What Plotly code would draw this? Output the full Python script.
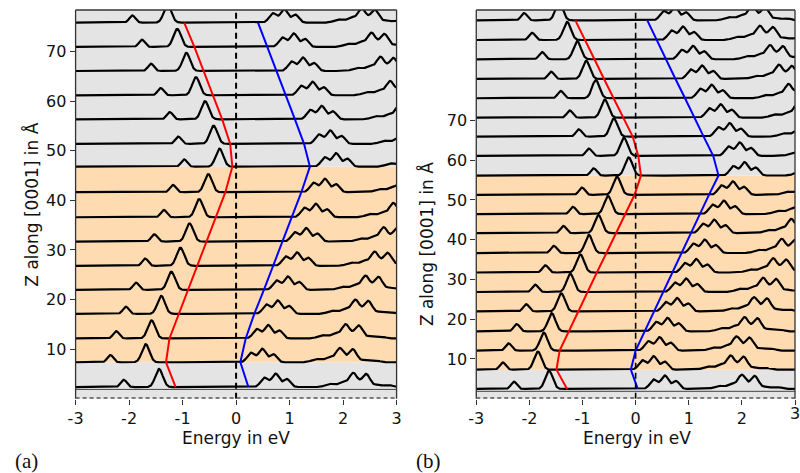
import numpy as np
import plotly.graph_objects as go

# ---------------- data ----------------
# layer baselines (Z along [0001], Angstrom)
z_a = [2.35, 7.35, 12.15, 17.1, 21.95, 26.8, 31.7, 36.6, 41.65, 46.8, 51.4, 56.35, 61.2, 66.1, 70.95, 75.85]
z_b = [2.45, 7.3, 12.1, 16.95, 21.95, 26.85, 31.75, 36.65, 41.65, 46.45, 51.3, 56.15, 61.1, 65.95,
       70.7, 75.6, 80.45, 85.4, 90.25, 95.2]

# main valence peak energy of each layer (eV)
peak_a = [-1.44, -1.69, -1.58, -1.40, -1.21, -1.04, -0.87, -0.69, -0.52, -0.31, -0.42, -0.58, -0.75, -0.93, -1.10, -1.28]
peak_b = [-1.63, -1.84, -1.73, -1.58, -1.40, -1.23, -1.04, -0.88, -0.70, -0.52, -0.35, -0.13, -0.22, -0.41,
          -0.58, -0.75, -0.93, -1.10, -1.29, -1.44]

# band edges (red = valence, blue = conduction) at each baseline (eV)
vbm_a = [-1.13, -1.31, -1.245, -1.07, -0.89, -0.72, -0.55, -0.38, -0.20, -0.07, -0.11, -0.26, -0.43, -0.60, -0.78, -0.97]
cbm_a = [0.23, 0.08, 0.18, 0.34, 0.52, 0.69, 0.87, 1.04, 1.22, 1.38, 1.27, 1.10, 0.93, 0.75, 0.58, 0.41]
vbm_b = [-1.29, -1.49, -1.43, -1.26, -1.08, -0.90, -0.73, -0.55, -0.37, -0.20, -0.02, 0.10, 0.05, -0.055,
         -0.235, -0.415, -0.595, -0.775, -0.955, -1.135]
cbm_b = [0.04, -0.09, 0.0, 0.17, 0.34, 0.52, 0.69, 0.86, 1.04, 1.21, 1.38, 1.56, 1.46, 1.28, 1.10, 0.93,
         0.75, 0.57, 0.40, 0.22]

# peak list of the layer DOS, relative to the main valence peak
dos_pos = [0.0, -0.66, 1.97, 2.18, 2.39, 3.20, 3.43, 3.63, 3.87, 4.10, 4.30]
dos_amp = [1.0, 0.40, 0.52, 0.74, 0.44, 0.18, 0.28, 0.78, 0.72, 0.12, 0.10]
dos_sig = [0.07, 0.055, 0.07, 0.068, 0.064, 0.09, 0.07, 0.075, 0.075, 0.07, 0.07]

# shaded regions: index range of the orange (middle) block
orange_a = (1, 9)
orange_b = (1, 11)

x_ticks = [-3, -2, -1, 0, 1, 2, 3]
x_ticktext = ["-3", "-2", "-1", "0", "1", "2", "3"]
y_ticks = [10, 20, 30, 40, 50, 60, 70]

# ---------------- figure ----------------
E = np.linspace(-3, 3, 1201)


def dos(shift):
    out = np.zeros_like(E)
    for p, a, s in zip(dos_pos, dos_amp, dos_sig):
        out += a * np.exp(-0.5 * ((E - shift - p) / s) ** 2)
    return out


GREY = "#e4e4e4"
ORANGE = "#ffdbb1"

fig = go.Figure()
shapes = []


def panel(xr, yr, zs, peaks, vbm, cbm, orange, height, ytop, lw_dash):
    lo, hi = orange
    for y0, y1, col in [(0, zs[lo], GREY), (zs[lo], zs[hi], ORANGE), (zs[hi], ytop, GREY)]:
        shapes.append(dict(type="rect", xref=xr, yref=yr, x0=-3, x1=3, y0=y0, y1=y1,
                           fillcolor=col, line=dict(width=0), layer="below"))
    fig.add_trace(go.Scatter(x=[-3, 3], y=[zs[0] - 0.45 * height / 3.45] * 2, mode="lines",
                             line=dict(color="#444444", width=1), xaxis=xr, yaxis=yr,
                             showlegend=False, hoverinfo="skip"))
    for z, p in zip(zs, peaks):
        fig.add_trace(go.Scatter(x=E, y=z + height * dos(p), mode="lines",
                                 line=dict(color="black", width=2.2), xaxis=xr, yaxis=yr,
                                 showlegend=False, hoverinfo="skip"))
    fig.add_trace(go.Scatter(x=vbm, y=zs, mode="lines", line=dict(color="red", width=2),
                             xaxis=xr, yaxis=yr, showlegend=False))
    fig.add_trace(go.Scatter(x=cbm, y=zs, mode="lines", line=dict(color="blue", width=2),
                             xaxis=xr, yaxis=yr, showlegend=False))
    fig.add_trace(go.Scatter(x=[0, 0], y=[0, ytop], mode="lines",
                             line=dict(color="black", width=lw_dash, dash="6px,4px"),
                             xaxis=xr, yaxis=yr, showlegend=False))
    dom_x = xr + " domain"
    dom_y = yr + " domain"
    for x0, y0, x1, y1 in [(0, 0, 0, 1), (0, 1, 1, 1), (1, 0, 1, 1)]:
        shapes.append(dict(type="line", xref=dom_x, yref=dom_y, x0=x0, y0=y0, x1=x1, y1=y1,
                           line=dict(color="#333333", width=1.3)))
    shapes.append(dict(type="line", xref=dom_x, yref=dom_y, x0=0, y0=0.002, x1=1, y1=0.002,
                       line=dict(color="#555555", width=1.5, dash="4px,3px")))


panel("x", "y", z_a, peak_a, vbm_a, cbm_a, orange_a, 3.65, 78.4, 2)
panel("x2", "y2", z_b, peak_b, vbm_b, cbm_b, orange_b, 4.55, 97.8, 1.6)

tickfont = dict(family="DejaVu Sans", size=16, color="#111111")
axis_common = dict(showgrid=False, zeroline=False, showline=False, ticks="outside",
                   ticklen=5, tickwidth=1.2, tickcolor="#333333", tickfont=tickfont)

H = 473.0
ydom = [(H - 398.7) / H, (H - 10) / H]
fig.update_layout(
    width=800, height=473, margin=dict(l=0, r=0, t=0, b=0),
    paper_bgcolor="white", plot_bgcolor="white",
    xaxis=dict(domain=[68.7 / 800, 395 / 800], range=[-3, 3], tickvals=x_ticks,
               ticktext=x_ticktext, anchor="y", **axis_common),
    yaxis=dict(domain=ydom, range=[0, 78.4], tickvals=y_ticks, anchor="x", **axis_common),
    xaxis2=dict(domain=[476 / 800, 1.0], range=[-3, 3], tickvals=x_ticks,
                ticktext=x_ticktext, anchor="y2", **axis_common),
    yaxis2=dict(domain=ydom, range=[0, 97.8], tickvals=y_ticks, anchor="x2", **axis_common),
    shapes=shapes,
)

titlefont = dict(family="DejaVu Sans", size=17, color="#111111")
labfont = dict(family="Liberation Serif", size=21, color="#111111")
ann = [
    dict(text="Energy in eV", x=232 / 800, y=(H - 438) / H, font=titlefont),
    dict(text="Energy in eV", x=639 / 800, y=(H - 438) / H, font=titlefont),
    dict(text="Z along [0001] in Å", x=23 / 800, y=(H - 205) / H, font=titlefont, textangle=-90),
    dict(text="Z along [0001] in Å", x=425 / 800, y=(H - 244) / H, font=titlefont, textangle=-90),
    dict(text="(a)", x=19 / 800, y=(H - 461) / H, font=labfont),
    dict(text="(b)", x=427 / 800, y=(H - 461) / H, font=labfont),
    dict(text="3", x=800 / 800, y=(H - 413) / H, font=tickfont),
]
for a in ann:
    a.update(xref="paper", yref="paper", showarrow=False, xanchor="center", yanchor="middle")
fig.update_layout(annotations=ann)

fig.write_html("out.html", config={"displayModeBar": False},
               post_script="document.body.style.margin='0px';document.body.style.overflow='hidden';")
